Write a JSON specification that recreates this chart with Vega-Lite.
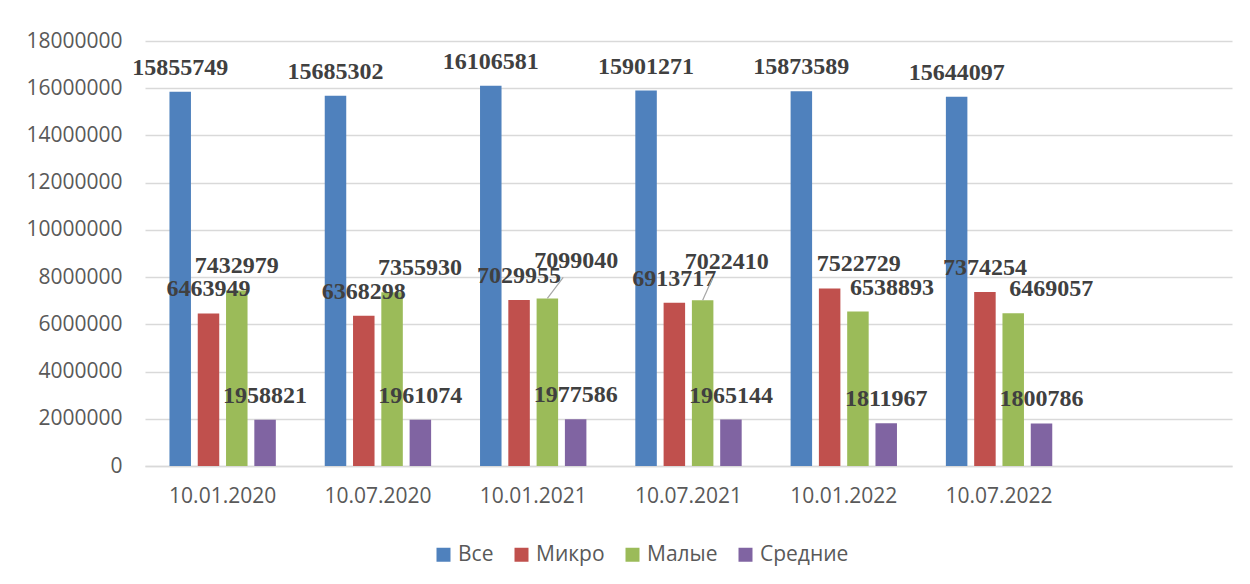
{
  "$schema": "https://vega.github.io/schema/vega-lite/v6.json",
  "width": 1087,
  "height": 425,
  "autosize": {"type": "none"},
  "padding": {"left": 145, "top": 41, "right": 18, "bottom": 118},
  "background": "white",
  "config": {"view": {"stroke": null}, "font": "Open Sans"},
  "data": {
    "values": [
      {"date": "10.01.2020", "series": "Все", "value": 15855749},
      {"date": "10.01.2020", "series": "Микро", "value": 6463949},
      {"date": "10.01.2020", "series": "Малые", "value": 7432979},
      {"date": "10.01.2020", "series": "Средние", "value": 1958821},
      {"date": "10.07.2020", "series": "Все", "value": 15685302},
      {"date": "10.07.2020", "series": "Микро", "value": 6368298},
      {"date": "10.07.2020", "series": "Малые", "value": 7355930},
      {"date": "10.07.2020", "series": "Средние", "value": 1961074},
      {"date": "10.01.2021", "series": "Все", "value": 16106581},
      {"date": "10.01.2021", "series": "Микро", "value": 7029955},
      {"date": "10.01.2021", "series": "Малые", "value": 7099040},
      {"date": "10.01.2021", "series": "Средние", "value": 1977586},
      {"date": "10.07.2021", "series": "Все", "value": 15901271},
      {"date": "10.07.2021", "series": "Микро", "value": 6913717},
      {"date": "10.07.2021", "series": "Малые", "value": 7022410},
      {"date": "10.07.2021", "series": "Средние", "value": 1965144},
      {"date": "10.01.2022", "series": "Все", "value": 15873589},
      {"date": "10.01.2022", "series": "Микро", "value": 7522729},
      {"date": "10.01.2022", "series": "Малые", "value": 6538893},
      {"date": "10.01.2022", "series": "Средние", "value": 1811967},
      {"date": "10.07.2022", "series": "Все", "value": 15644097},
      {"date": "10.07.2022", "series": "Микро", "value": 7374254},
      {"date": "10.07.2022", "series": "Малые", "value": 6469057},
      {"date": "10.07.2022", "series": "Средние", "value": 1800786}
    ]
  },
  "encoding": {
    "x": {
      "field": "date",
      "type": "nominal",
      "sort": null,
      "title": null,
      "scale": {
        "domain": ["10.01.2020", "10.07.2020", "10.01.2021", "10.07.2021", "10.01.2022", "10.07.2022", " "],
        "paddingInner": 0.315,
        "paddingOuter": 0.1575
      },
      "axis": {
        "labelAngle": 0,
        "labelFont": "Open Sans",
        "labelFontSize": 21,
        "labelColor": "#595959",
        "labelPadding": 19,
        "ticks": false,
        "domain": true,
        "domainColor": "#D9D9D9",
        "domainWidth": 1.5,
        "grid": false
      }
    },
    "xOffset": {
      "field": "series",
      "type": "nominal",
      "scale": {"domain": ["Все", "Микро", "Малые", "Средние"], "paddingInner": 0.24, "paddingOuter": 0}
    },
    "y": {
      "field": "value",
      "type": "quantitative",
      "title": null,
      "scale": {"domain": [0, 18000000], "nice": false},
      "axis": {
        "values": [0, 2000000, 4000000, 6000000, 8000000, 10000000, 12000000, 14000000, 16000000, 18000000],
        "format": "d",
        "labelFont": "Open Sans",
        "labelFontSize": 21,
        "labelColor": "#595959",
        "labelPadding": 23,
        "ticks": false,
        "domain": false,
        "grid": true,
        "gridColor": "#D9D9D9",
        "gridWidth": 1.5
      }
    }
  },
  "layer": [
    {
      "mark": {"type": "bar"},
      "encoding": {
        "color": {
          "field": "series",
          "type": "nominal",
          "scale": {
            "domain": ["Все", "Микро", "Малые", "Средние"],
            "range": ["#4F81BD", "#C0504D", "#9BBB59", "#8064A2"]
          },
          "legend": {
            "orient": "none",
            "legendX": 288,
            "legendY": 503,
            "direction": "horizontal",
            "title": null,
            "symbolType": "square",
            "symbolSize": 196,
            "symbolStrokeWidth": 0,
            "labelFont": "Open Sans",
            "labelFontSize": 21,
            "labelColor": "#595959",
            "labelOffset": 4,
            "columnPadding": 17
          }
        }
      }
    },
    {
      "transform": [{"filter": "!((datum.series == 'Малые' && datum.date != '10.01.2020') || (datum.series == 'Микро' && datum.date == '10.01.2022'))"}],
      "mark": {"type": "text", "font": "Liberation Serif", "fontWeight": "bold", "fontSize": 24, "color": "#404040", "baseline": "middle", "dy": -24},
      "encoding": {"text": {"field": "value", "type": "quantitative", "format": "d"}}
    },
    {
      "transform": [{"filter": "datum.series == 'Малые' && datum.date == '10.07.2020'"}],
      "mark": {"type": "text", "font": "Liberation Serif", "fontWeight": "bold", "fontSize": 24, "color": "#404040", "baseline": "middle", "dy": -24, "dx": 28},
      "encoding": {"text": {"field": "value", "type": "quantitative", "format": "d"}}
    },
    {
      "transform": [{"filter": "datum.series == 'Малые' && datum.date == '10.01.2021'"}],
      "mark": {"type": "text", "font": "Liberation Serif", "fontWeight": "bold", "fontSize": 24, "color": "#404040", "baseline": "middle", "dy": -37, "dx": 29},
      "encoding": {"text": {"field": "value", "type": "quantitative", "format": "d"}}
    },
    {
      "transform": [{"filter": "datum.series == 'Малые' && datum.date == '10.07.2021'"}],
      "mark": {"type": "text", "font": "Liberation Serif", "fontWeight": "bold", "fontSize": 24, "color": "#404040", "baseline": "middle", "dy": -38, "dx": 24},
      "encoding": {"text": {"field": "value", "type": "quantitative", "format": "d"}}
    },
    {
      "transform": [{"filter": "datum.series == 'Микро' && datum.date == '10.01.2022'"}],
      "mark": {"type": "text", "font": "Liberation Serif", "fontWeight": "bold", "fontSize": 24, "color": "#404040", "baseline": "middle", "dy": -24, "dx": 29},
      "encoding": {"text": {"field": "value", "type": "quantitative", "format": "d"}}
    },
    {
      "transform": [{"filter": "datum.series == 'Малые' && datum.date == '10.01.2022'"}],
      "mark": {"type": "text", "font": "Liberation Serif", "fontWeight": "bold", "fontSize": 24, "color": "#404040", "baseline": "middle", "dy": -24, "dx": 34},
      "encoding": {"text": {"field": "value", "type": "quantitative", "format": "d"}}
    },
    {
      "transform": [{"filter": "datum.series == 'Малые' && datum.date == '10.07.2022'"}],
      "mark": {"type": "text", "font": "Liberation Serif", "fontWeight": "bold", "fontSize": 24, "color": "#404040", "baseline": "middle", "dy": -24, "dx": 38},
      "encoding": {"text": {"field": "value", "type": "quantitative", "format": "d"}}
    },
    {
      "transform": [{"filter": "datum.series == 'Малые' && datum.date == '10.01.2021'"}],
      "mark": {"type": "rule", "color": "#A6A6A6", "strokeWidth": 1.2, "x2Offset": 30, "y2Offset": -21},
      "encoding": {
        "x2": {"field": "date"},
        "y2": {"field": "value"}
      }
    },
    {
      "transform": [{"filter": "datum.series == 'Малые' && datum.date == '10.07.2021'"}],
      "mark": {"type": "rule", "color": "#A6A6A6", "strokeWidth": 1.2, "x2Offset": 24, "y2Offset": -22},
      "encoding": {
        "x2": {"field": "date"},
        "y2": {"field": "value"}
      }
    }
  ]
}
